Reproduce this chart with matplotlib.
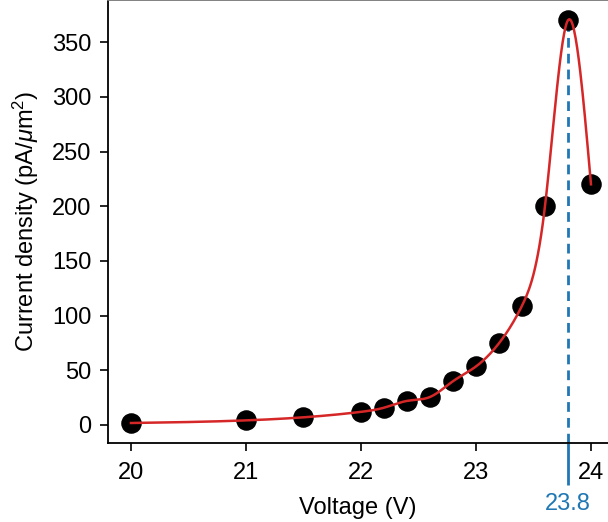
import numpy as np
import matplotlib
matplotlib.use("Agg")
import matplotlib.pyplot as plt

plt.rcParams["font.family"] = ["Liberation Sans", "DejaVu Sans"]
plt.rcParams["mathtext.fontset"] = "custom"
plt.rcParams["mathtext.rm"] = "Liberation Sans"
plt.rcParams["mathtext.it"] = "Liberation Sans:italic"

# Measured current density vs applied voltage
voltage = [20.0, 21.0, 21.5, 22.0, 22.2, 22.4, 22.6, 22.8, 23.0, 23.2, 23.4, 23.6, 23.8, 24.0]
current = [1.8, 4.2, 7.0, 12.0, 15.8, 22.0, 25.6, 40.0, 53.5, 74.7, 109.0, 200.0, 370.0, 220.0]
x_ticks = [20, 21, 22, 23, 24]
y_ticks = [0, 50, 100, 150, 200, 250, 300, 350]
peak_voltage = 23.8


def natural_cubic_spline(x, y, xs):
    x = np.asarray(x, float)
    y = np.asarray(y, float)
    n = len(x)
    h = np.diff(x)
    A = np.zeros((n, n))
    b = np.zeros(n)
    A[0, 0] = A[-1, -1] = 1.0
    for i in range(1, n - 1):
        A[i, i - 1] = h[i - 1]
        A[i, i] = 2 * (h[i - 1] + h[i])
        A[i, i + 1] = h[i]
        b[i] = 3 * ((y[i + 1] - y[i]) / h[i] - (y[i] - y[i - 1]) / h[i - 1])
    c = np.linalg.solve(A, b)
    bb = (y[1:] - y[:-1]) / h - h * (2 * c[:-1] + c[1:]) / 3
    d = (c[1:] - c[:-1]) / (3 * h)
    idx = np.clip(np.searchsorted(x, xs) - 1, 0, n - 2)
    t = xs - x[idx]
    return y[idx] + bb[idx] * t + c[idx] * t ** 2 + d[idx] * t ** 3


fig = plt.figure(figsize=(6.08, 5.22), dpi=100)
ax = fig.add_axes([0.1776, 0.1513, 0.8224, 0.8487])

xs = np.linspace(voltage[0], voltage[-1], 600)
ax.plot(xs, natural_cubic_spline(voltage, current, xs), color="#d62728", lw=1.8, zorder=3)
ax.scatter(voltage, current, s=190, color="black", zorder=2)

ax.vlines(peak_voltage, -16.5, current[voltage.index(peak_voltage)], colors="#1f77b4",
          linestyles=(0, (3.5, 2.2)), lw=2.0, zorder=1)

ax.set_xlim(19.8, 24.148)
ax.set_ylim(-16.5, 388.5)
ax.set_xticks(x_ticks)
ax.set_yticks(y_ticks)
ax.tick_params(axis="both", labelsize=17, length=6, width=1.2, color="black")
ax.tick_params(axis="y", pad=6)
ax.tick_params(axis="x", pad=8)

ax.spines["right"].set_visible(False)
for side in ("left", "bottom", "top"):
    ax.spines[side].set_linewidth(1.3)
ax.spines["top"].set_color("#777777")

ax.set_xlabel("Voltage (V)", fontsize=17, labelpad=9)
ax.set_ylabel(r"Current density (pA/$\mu$m$^2$)", fontsize=17, labelpad=8)

sec = ax.secondary_xaxis("bottom")
sec.set_xticks([peak_voltage])
sec.set_xticklabels([f"{peak_voltage}"])
sec.tick_params(axis="x", length=30, width=2.0, color="#1f77b4", labelcolor="#1f77b4",
                labelsize=17, pad=6)
sec.spines["bottom"].set_visible(False)

fig.savefig("out.png", dpi=100)
